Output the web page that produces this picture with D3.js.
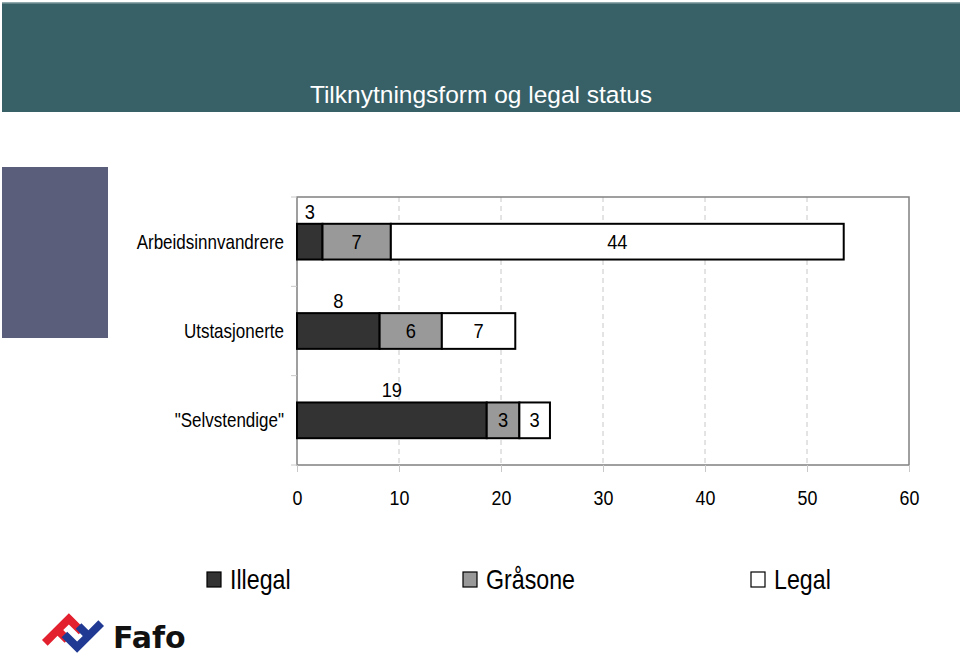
<!DOCTYPE html>
<html>
<head>
<meta charset="utf-8">
<script src="https://cdn.jsdelivr.net/npm/d3@7"></script>
<style>
html,body{margin:0;padding:0;background:#fff;}
svg{display:block;font-family:"Liberation Sans",Arial,sans-serif;}
</style>
</head>
<body>
<svg id="chart" width="960" height="662"></svg>
<script>
const title = "Tilknytningsform og legal status";
const categories = ["Arbeidsinnvandrere", "Utstasjonerte", "\"Selvstendige\""];
const seriesNames = ["Illegal", "Gråsone", "Legal"];
const illegal = [2.5, 8.1, 18.6];
const graasone = [6.7, 6.1, 3.2];
const legal = [44.4, 7.2, 3.0];
const xTicks = [0, 10, 20, 30, 40, 50, 60];
const colors = ["#333333", "#999999", "#ffffff"];

const svg = d3.select("#chart");

// condense text horizontally (mimics a narrow face)
function narrow(sel, sx) {
  sel.each(function () {
    const t = d3.select(this);
    const tx = +t.attr("x") || 0, ty = +t.attr("y") || 0;
    t.attr("x", 0).attr("y", 0).attr("transform", `translate(${tx},${ty}) scale(${sx},1)`);
  });
}

// title banner
svg.append("rect").attr("x", 2).attr("y", 2).attr("width", 958).attr("height", 110).attr("fill", "#376067");
svg.append("rect").attr("x", 2).attr("y", 2).attr("width", 958).attr("height", 1.5).attr("fill", "#8fa9ad");
svg.append("text").attr("x", 481).attr("y", 103).attr("text-anchor", "middle")
  .attr("fill", "#ffffff").attr("font-size", 24.5).text(title);

// side block
svg.append("rect").attr("x", 2).attr("y", 167).attr("width", 106).attr("height", 171).attr("fill", "#5b5e7a");

const L = 297, R = 909, T = 197, B = 465;
const x = d3.scaleLinear().domain([0, 60]).range([L, R]);
const y = d3.scaleBand().domain(categories).range([T, B]).paddingInner(0.6).paddingOuter(0.3);

// gridlines
svg.append("g").selectAll("line").data(xTicks.filter(d => d > 0 && d < 60)).join("line")
  .attr("x1", d => x(d)).attr("x2", d => x(d)).attr("y1", T).attr("y2", B)
  .attr("stroke", "#c8c8c8").attr("stroke-width", 1).attr("stroke-dasharray", "5,4");

// plot border
svg.append("rect").attr("x", L).attr("y", T).attr("width", R - L).attr("height", B - T)
  .attr("fill", "none").attr("stroke", "#808080").attr("stroke-width", 1.5);

// x axis
const xAxis = d3.axisBottom(x).tickValues(xTicks).tickSize(7).tickPadding(14).tickFormat(d3.format("d"));
const gx = svg.append("g").attr("transform", `translate(0,${B})`).call(xAxis);
gx.attr("font-family", null);
gx.select(".domain").remove();
gx.selectAll(".tick line").attr("stroke", "#c8c8c8");
gx.selectAll(".tick text").attr("font-size", 21).attr("fill", "#000").attr("dy", null).attr("y", 40);
narrow(gx.selectAll(".tick text"), 0.85);

// y category separators (left ticks)
const sepY = [T, T + (B - T) / 3, T + 2 * (B - T) / 3, B];
svg.append("g").selectAll("line").data(sepY).join("line")
  .attr("x1", L - 6).attr("x2", L).attr("y1", d => d).attr("y2", d => d)
  .attr("stroke", "#c8c8c8");

// y labels
const yAxis = d3.axisLeft(y).tickSize(0).tickPadding(13);
const gy = svg.append("g").attr("transform", `translate(${L},0)`).call(yAxis);
gy.attr("font-family", null);
gy.select(".domain").remove();
gy.selectAll(".tick text").attr("font-size", 20).attr("fill", "#000").attr("dy", null).attr("y", 7);
narrow(gy.selectAll(".tick text"), 0.85);

// stacked data
const rows = categories.map((c, i) => ({ cat: c, Illegal: illegal[i], "Gråsone": graasone[i], Legal: legal[i] }));
const stack = d3.stack().keys(seriesNames)(rows);
const fmt = d3.format(".0f");

const gBars = svg.append("g");
stack.forEach((layer, si) => {
  gBars.selectAll(null).data(layer).join("rect")
    .attr("x", d => x(d[0])).attr("y", d => y(d.data.cat))
    .attr("width", d => x(d[1]) - x(d[0])).attr("height", y.bandwidth())
    .attr("fill", colors[si]).attr("stroke", "#000").attr("stroke-width", 2);
});
stack.forEach((layer, si) => {
  const lbl = gBars.selectAll(null).data(layer).join("text")
    .attr("x", d => (x(d[0]) + x(d[1])) / 2)
    .attr("y", d => si === 0 ? y(d.data.cat) - 5 : y(d.data.cat) + y.bandwidth() / 2 + 7)
    .attr("text-anchor", "middle").attr("font-size", 21).attr("fill", "#000")
    .text(d => fmt(d[1] - d[0]));
  narrow(lbl, 0.87);
});

// legend
const legendX = [207, 463, 751];
const lg = svg.append("g");
seriesNames.forEach((n, i) => {
  lg.append("rect").attr("x", legendX[i]).attr("y", 572).attr("width", 14).attr("height", 15)
    .attr("fill", colors[i]).attr("stroke", "#000").attr("stroke-width", 1.2);
  const t = lg.append("text").attr("x", legendX[i] + 23).attr("y", 589)
    .attr("font-size", 27).attr("fill", "#000").text(n);
  narrow(t, 0.86);
});

// Fafo logo
const logo = svg.append("g");
const fPath = "M0,0 L0,-38 L22,-38 L22,-30 L8,-30 L8,-22 L18,-22 L18,-14 L8,-14 L8,0 Z";
logo.append("path").attr("d", fPath).attr("fill", "#e3202e")
  .attr("transform", "translate(42,640) rotate(45)");
logo.append("path").attr("d", fPath).attr("fill", "#203a93")
  .attr("transform", "translate(104,626) rotate(225)");
logo.append("text").attr("x", 113).attr("y", 648).attr("font-size", 30).attr("font-weight", "bold")
  .attr("fill", "#111").attr("font-family", "DejaVu Sans, Liberation Sans, sans-serif").text("Fafo");
</script>
</body>
</html>
